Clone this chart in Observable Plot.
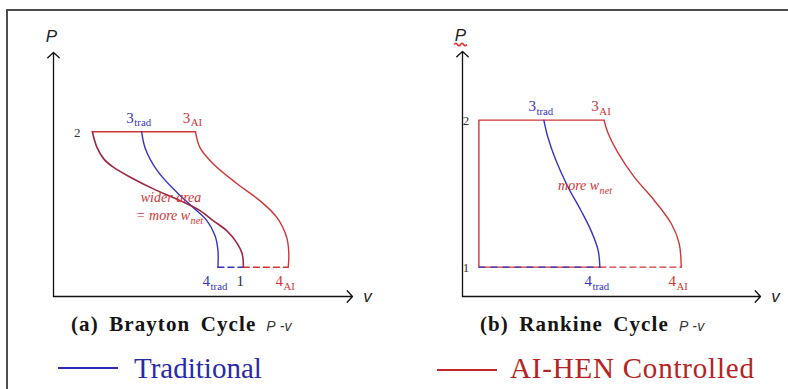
<!DOCTYPE html>
<html>
<head>
<meta charset="utf-8">
<script src="https://cdn.jsdelivr.net/npm/d3@7"></script>
<script src="https://cdn.jsdelivr.net/npm/@observablehq/plot@0.6"></script>
<style>
  html, body { margin: 0; padding: 0; background: #fff; }
  body { width: 788px; height: 389px; overflow: hidden; position: relative; }
  #frame { position: absolute; left: 6px; top: 9px; width: 900px; height: 500px; border: 2px solid #4d4d4d; }
  .panel { position: absolute; top: 0; }
  .cap { position: absolute; font: bold 21px "Liberation Serif", serif; color: #151515; letter-spacing: 1.1px; word-spacing: 4px; line-height: 24px; white-space: nowrap; }
  .cap span { font: italic 14px "Liberation Sans", sans-serif; color: #333; letter-spacing: 0.3px; word-spacing: 0; margin-left: 10px; }
  .legline { position: absolute; height: 2px; }
  .legtext { position: absolute; font: 29px "Liberation Serif", serif; line-height: 30px; white-space: nowrap; }
</style>
</head>
<body>
<div id="frame"></div>
<div id="a" class="panel" style="left:0px"></div>
<div id="b" class="panel" style="left:394px"></div>
<div class="cap" style="left:71px; top:312px">(a) Brayton Cycle<span>P -v</span></div>
<div class="cap" style="left:480px; top:312px">(b) Rankine Cycle<span>P -v</span></div>
<div class="legline" style="left:58px; top:367px; width:60px; background:#2a2ab4"></div>
<div class="legtext" style="left:134px; top:353px; color:#2a2aa8">Traditional</div>
<div class="legline" style="left:437px; top:369px; width:60px; background:#c02828"></div>
<div class="legtext" style="left:510px; top:353px; color:#b42424; letter-spacing:0.8px">AI-HEN Controlled</div>
<script>
// ---------- Data (chart units: v horizontal, P vertical, axes span 0..10) ----------
const legendNames = ["Traditional", "AI-HEN Controlled"];

// Brayton cycle state points
const braytonStateNames = ["1", "2", "3_trad", "3_AI", "4_trad", "4_AI"];
const braytonStateV     = [6.35, 1.3, 2.95, 4.75, 5.5, 7.85];
const braytonStateP     = [1.2, 6.75, 6.75, 6.75, 1.2, 1.2];

// Brayton compression 1-2 (shared)
const braytonCompV = [1.3, 1.45, 1.68, 2.0, 2.57, 3.34, 4.23, 4.9, 5.34, 5.79, 6.12, 6.31, 6.35];
const braytonCompP = [6.75, 6.12, 5.64, 5.3, 4.89, 4.41, 3.93, 3.52, 3.11, 2.7, 2.22, 1.75, 1.2];
// Brayton expansion 3-4, traditional
const braytonTradV = [2.95, 3.07, 3.47, 4.13, 4.67, 5.13, 5.4, 5.5, 5.5];
const braytonTradP = [6.75, 6.07, 5.16, 4.26, 3.65, 3.11, 2.5, 1.89, 1.2];
// Brayton expansion 3-4, AI-HEN
const braytonAIV = [4.75, 4.9, 5.33, 6.13, 6.9, 7.47, 7.8, 7.87, 7.85];
const braytonAIP = [6.75, 6.1, 5.45, 4.63, 3.93, 3.24, 2.42, 1.76, 1.2];

// Rankine cycle state points
const rankineStateNames = ["1", "2", "3_trad", "3_AI", "4_trad", "4_AI"];
const rankineStateV     = [0.55, 0.55, 2.73, 4.75, 4.61, 7.34];
const rankineStateP     = [1.2, 7.2, 7.2, 7.2, 1.2, 1.2];
// Rankine expansion, traditional
const rankineTradV = [2.73, 2.86, 3.13, 3.54, 3.97, 4.31, 4.55, 4.61];
const rankineTradP = [7.2, 6.52, 5.57, 4.47, 3.52, 2.7, 1.89, 1.2];
// Rankine expansion, AI-HEN
const rankineAIV = [4.75, 4.88, 5.22, 5.76, 6.43, 7.0, 7.27, 7.34];
const rankineAIP = [7.2, 6.68, 5.86, 4.88, 3.93, 2.99, 2.17, 1.2];

// Annotations (chart units)
const braytonNoteText = ["wider area", "= more w_net"];
const braytonNoteV = [3.93, 3.88];
const braytonNoteP = [4.04, 3.32];
const rankineNoteText = ["more w_net"];
const rankineNoteV = [4.11];
const rankineNoteP = [4.51];

// ---------- Helpers ----------
const BLUE = "#3434c4", RED = "#cf3636", MAROON = "#9c2846", INK = "#333";
const pts = (vs, ps) => vs.map((v, i) => ({v, P: ps[i]}));
const states = (names, vs, ps) => Object.fromEntries(names.map((n, i) => [n, {name: n, v: vs[i], P: ps[i]}]));
const labelColor = n => n.endsWith("trad") ? BLUE : n.endsWith("AI") ? RED : INK;
const notes = (t, vs, ps) => t.map((text, i) => ({text, v: vs[i], P: ps[i]}));

// wavy symbol (spell-check style underline)
const waveSymbol = {
  draw(ctx, size) {
    const w = Math.sqrt(size) / 2, h = w * 0.4, q = w / 4;
    ctx.moveTo(-w, 0);
    ctx.quadraticCurveTo(-w + q, -h, -w + 2 * q, 0);
    ctx.quadraticCurveTo(-w + 3 * q, h, -w + 4 * q, 0);
    ctx.quadraticCurveTo(-w + 5 * q, -h, -w + 6 * q, 0);
    ctx.quadraticCurveTo(-w + 7 * q, h, w, 0);
  }
};

function subscripts(svg) {
  svg.querySelectorAll("text").forEach(t => {
    const s = t.textContent;
    if (!s.includes("_")) return;
    const [main, sub] = s.split("_");
    while (t.firstChild) t.removeChild(t.firstChild);
    const a = document.createElementNS("http://www.w3.org/2000/svg", "tspan");
    a.textContent = main;
    const b = document.createElementNS("http://www.w3.org/2000/svg", "tspan");
    b.textContent = sub;
    b.setAttribute("font-size", "0.72em");
    b.setAttribute("dy", "0.35em");
    b.setAttribute("dx", "0.5");
    t.appendChild(a); t.appendChild(b);
  });
}

const axisFont = {fontSize: 17, fontStyle: "italic", fontFamily: "Liberation Sans, sans-serif", fill: "#222"};

function axisMarks() {
  return [
    Plot.arrow([{x1: 0, y1: 0, x2: 10, y2: 0}], {x1: "x1", y1: "y1", x2: "x2", y2: "y2", stroke: "#111", strokeWidth: 1.3, headLength: 9, headAngle: 95}),
    Plot.arrow([{x1: 0, y1: 0, x2: 0, y2: 10}], {x1: "x1", y1: "y1", x2: "x2", y2: "y2", stroke: "#111", strokeWidth: 1.3, headLength: 9, headAngle: 95}),
    Plot.text([{v: 10, P: 0}], {x: "v", y: "P", text: () => "v", dx: 15, dy: 0, ...axisFont}),
    Plot.text([{v: 0, P: 10}], {x: "v", y: "P", text: () => "P", dx: -2, dy: -16, ...axisFont})
  ];
}

function labelMarks(S, top, bottom, left, leftDx) {
  const common = {x: "v", y: "P", text: "name", fill: d => labelColor(d.name), fontFamily: "Liberation Serif, serif", fontSize: 15};
  return [
    Plot.text(top.map(n => S[n]), {...common, dx: -3, dy: -14}),
    Plot.text(bottom.map(n => S[n]), {...common, dx: -3, dy: 14}),
    Plot.text(left.map(n => S[n]), {...common, dx: leftDx, dy: 1, fontSize: 13})
  ];
}

const noteStyle = {x: "v", y: "P", text: "text", fill: RED, fontSize: 14, fontStyle: "italic", fontFamily: "Liberation Serif, serif", letterSpacing: 0.9};

// ---------- Brayton ----------
const BS = states(braytonStateNames, braytonStateV, braytonStateP);
const plotA = Plot.plot({
  width: 394, height: 310,
  x: {domain: [0, 10], range: [53, 352], axis: null},
  y: {domain: [0, 10], range: [296, 52], axis: null},
  marks: [
    ...axisMarks(),
    Plot.line([BS["2"], BS["3_AI"]], {x: "v", y: "P", stroke: RED, strokeWidth: 1.4}),
    Plot.line([BS["4_trad"], BS["1"]], {x: "v", y: "P", stroke: BLUE, strokeWidth: 1.4, strokeDasharray: "6,4"}),
    Plot.line([BS["1"], BS["4_AI"]], {x: "v", y: "P", stroke: RED, strokeWidth: 1.4, strokeDasharray: "6,4"}),
    Plot.line(pts(braytonTradV, braytonTradP), {x: "v", y: "P", stroke: BLUE, strokeWidth: 1.4, curve: "catmull-rom"}),
    Plot.line(pts(braytonAIV, braytonAIP), {x: "v", y: "P", stroke: RED, strokeWidth: 1.4, curve: "catmull-rom"}),
    Plot.line(pts(braytonCompV, braytonCompP), {x: "v", y: "P", stroke: MAROON, strokeWidth: 1.6, curve: "catmull-rom"}),
    ...labelMarks(BS, ["3_trad", "3_AI"], ["4_trad", "1", "4_AI"], ["2"], -15),
    Plot.text(notes(braytonNoteText, braytonNoteV, braytonNoteP), noteStyle)
  ]
});
subscripts(plotA);
document.getElementById("a").appendChild(plotA);

// ---------- Rankine ----------
const RS = states(rankineStateNames, rankineStateV, rankineStateP);
const plotB = Plot.plot({
  width: 394, height: 310,
  x: {domain: [0, 10], range: [68, 366], axis: null},
  y: {domain: [0, 10], range: [296, 51], axis: null},
  marks: [
    ...axisMarks(),
    // spell-check style squiggle under the Rankine "P"
    Plot.dot([{v: 0, P: 10}], {x: "v", y: "P", symbol: waveSymbol, r: 7, dx: -2, dy: -7, fill: "none", stroke: "#e02828", strokeWidth: 1.5}),
    Plot.line([RS["4_trad"], RS["1"], RS["2"], RS["3_AI"]], {x: "v", y: "P", stroke: RED, strokeWidth: 1.4}),
    Plot.line([RS["1"], RS["4_trad"]], {x: "v", y: "P", stroke: BLUE, strokeWidth: 1.4, strokeDasharray: "6,6"}),
    Plot.line([RS["4_trad"], RS["4_AI"]], {x: "v", y: "P", stroke: RED, strokeWidth: 1.4, strokeDasharray: "6,4"}),
    Plot.line(pts(rankineTradV, rankineTradP), {x: "v", y: "P", stroke: BLUE, strokeWidth: 1.4, curve: "catmull-rom"}),
    Plot.line(pts(rankineAIV, rankineAIP), {x: "v", y: "P", stroke: RED, strokeWidth: 1.4, curve: "catmull-rom"}),
    ...labelMarks(RS, ["3_trad", "3_AI"], ["4_trad", "4_AI"], ["2", "1"], -13),
    Plot.text(notes(rankineNoteText, rankineNoteV, rankineNoteP), noteStyle)
  ]
});
subscripts(plotB);
document.getElementById("b").appendChild(plotB);
</script>
</body>
</html>
